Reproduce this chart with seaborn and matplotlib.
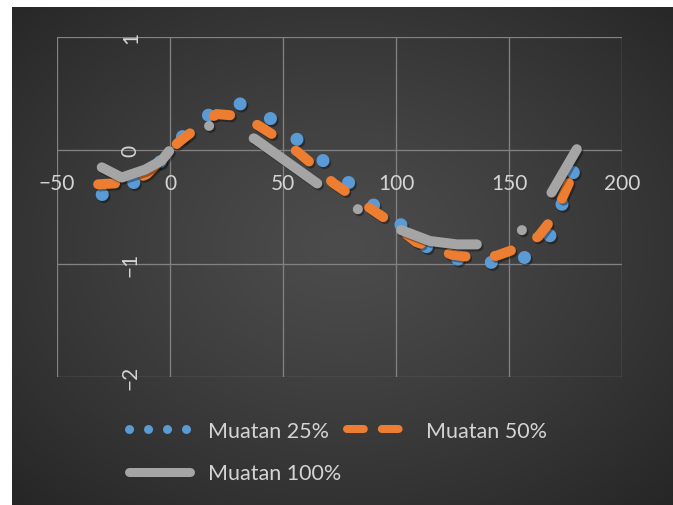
import numpy as np
import pandas as pd
import matplotlib
matplotlib.use("Agg")
import matplotlib.pyplot as plt
import matplotlib.patheffects as pe
from matplotlib.lines import Line2D
import seaborn as sns

# ----------------------------------------------------------
# Data
# ----------------------------------------------------------
x25 = [-30, -15.5, -3.7, 5.9, 17, 31, 44.5, 56, 67.7, 78.8, 89.9, 101.8,
       113.6, 127.4, 141.6, 156.6, 168, 173, 178.4, 180]
y25 = [-0.39, -0.28, -0.09, 0.13, 0.31, 0.41, 0.28, 0.10, -0.09, -0.28, -0.48,
       -0.65, -0.85, -0.96, -0.99, -0.95, -0.76, -0.50, -0.20, -0.11]

x50 = [-31.8, -18.5, -10.3, 3.7, 14, 20.6, 32.4, 39.8, 50.1, 56.8, 66.4, 72.3,
       81.9, 89.2, 98.1, 109, 116.5, 124.6, 135.7, 144.5, 155.6, 163, 170.4,
       174, 178.5, 180]
y50 = [-0.30, -0.285, -0.21, 0.07, 0.23, 0.32, 0.30, 0.21, 0.08, -0.02, -0.18,
       -0.29, -0.42, -0.52, -0.64, -0.81, -0.86, -0.92, -0.95, -0.93, -0.85,
       -0.76, -0.57, -0.40, -0.20, -0.10]

x100 = [-30.2, -21.4, -11, -3.7, 1.5, 10, 19.2, 26, 37.6, 67.8, 84.8, 101.8,
        115, 127, 138.6, 148, 157, 168.9, 180]
y100 = [-0.15, -0.24, -0.17, -0.09, 0.04, 0.16, 0.23, 0.22, 0.10, -0.33, -0.54,
        -0.70, -0.80, -0.83, -0.83, -0.79, -0.69, -0.37, 0.01]

labels = ["Muatan 25%", "Muatan 50%", "Muatan 100%"]
colors = ["#5B9BD5", "#ED7D31", "#A5A5A5"]
x_ticks = [-50, 0, 50, 100, 150, 200]
y_ticks = [-2, -1, 0, 1]

W, H = 673, 506
PX = 72 / 100  # points per pixel at dpi 100

sns.set_style("dark")
plt.rcParams["font.family"] = ["Lato", "DejaVu Sans"]

fig = plt.figure(figsize=(W / 100, H / 100), dpi=100, facecolor="white")

# dark radial gradient background (Excel style)
bg = fig.add_axes([12 / W, 0, 1 - 12 / W, 1 - 8 / H])
gx, gy = np.meshgrid(np.linspace(0, 1, 300), np.linspace(0, 1, 300))
r = np.sqrt(((gx - 0.5) / 0.75) ** 2 + ((gy - 0.48) / 0.75) ** 2)
shade = (76 - 40 * np.clip(r, 0, 1) ** 1.2) / 255
bg.imshow(np.dstack([shade] * 3), aspect="auto", extent=(0, 1, 0, 1))
bg.axis("off")

ax = fig.add_axes([57 / W, 1 - 378 / H, 565 / W, 340 / H])
ax.patch.set_alpha(0)

series = [(x25, y25), (x50, y50), (x100, y100)]
widths = [13, 10, 10]  # px
styles = [(0, (0.01, 2.58)), (0, (1.7, 2.95)), (0, (7.8, 4.8, 0.01, 4.8))]
shadow = [pe.SimpleLineShadow(offset=(1.2, -1.5), shadow_color="black", alpha=0.35),
          pe.Normal()]

for (xs, ys), lab, col, lw, ls in zip(series, labels, colors, widths, styles):
    df = pd.DataFrame({"x": xs, "y": ys})
    sns.lineplot(data=df, x="x", y="y", ax=ax, color=col, linewidth=lw * PX,
                 sort=False, estimator=None)
    line = ax.lines[-1]
    line.set_linestyle(ls)
    line.set_dash_capstyle("round")
    line.set_solid_capstyle("round")
    line.set_path_effects(shadow)

ax.set_xlim(-50, 200)
ax.set_ylim(-2, 1)
ax.set_xticks(x_ticks)
ax.set_yticks(y_ticks)
ax.set_xlabel("")
ax.set_ylabel("")
ax.grid(True, color="#828282", linewidth=1.3 * PX)
for s in ax.spines.values():
    s.set_visible(False)
ax.spines["bottom"].set_position(("data", 0))
ax.spines["left"].set_position(("data", 0))

ax.tick_params(axis="x", length=0, pad=16, labelsize=15, labelcolor="#d4d4d4")
ax.tick_params(axis="y", length=0, pad=21, labelsize=15, labelcolor="#d4d4d4",
               labelrotation=90)
for t in ax.get_yticklabels():
    t.set_va("center")

# legend
h25 = Line2D([], [], color=colors[0], linewidth=9 * PX, linestyle=(0, (0.01, 2.1)),
             dash_capstyle="round")
h50 = Line2D([], [], color=colors[1], linewidth=8 * PX, linestyle=(0, (2.1, 2.25)),
             dash_capstyle="round")
h100 = Line2D([], [], color=colors[2], linewidth=9 * PX, solid_capstyle="round")
fig.legend(handles=[h25, h100, h50], labels=[labels[0], labels[2], labels[1]],
           ncol=2, loc="center", bbox_to_anchor=(338 / W, 1 - 453 / H),
           frameon=False, fontsize=15.5, labelcolor="#d4d4d4", handlelength=2.85,
           handletextpad=0.85, columnspacing=0.25, labelspacing=1.05)

fig.savefig("out.png", dpi=100, facecolor="white")
